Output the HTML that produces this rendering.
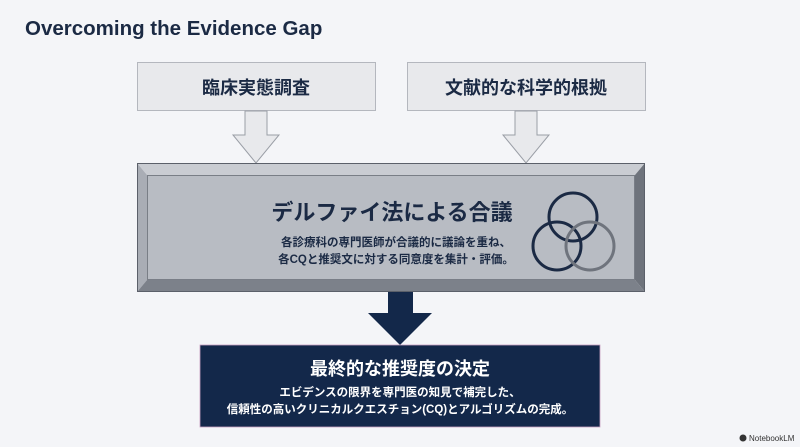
<!DOCTYPE html>
<html><head><meta charset="utf-8"><style>
html,body{margin:0;padding:0;background:#f4f5f8;}
svg{display:block;}
text{font-family:"Liberation Sans","Noto Sans CJK JP",sans-serif;}
</style></head><body>
<svg width="800" height="447" viewBox="0 0 800 447" xmlns="http://www.w3.org/2000/svg">
<rect width="800" height="447" fill="#f4f5f8"/>
<text x="25" y="35" font-size="20.5" font-weight="bold" fill="#1b2a44">Overcoming the Evidence Gap</text>

<rect x="137.5" y="62.5" width="238" height="48" fill="#e8e9ec" stroke="#b4b7be"/>
<text x="256" y="94" font-size="18" font-weight="bold" fill="#1b2a44" text-anchor="middle">臨床実態調査</text>
<rect x="407.5" y="62.5" width="238" height="48" fill="#e8e9ec" stroke="#b4b7be"/>
<text x="526" y="94" font-size="18" font-weight="bold" fill="#1b2a44" text-anchor="middle">文献的な科学的根拠</text>

<polygon points="245,111 267,111 267,135 279,135 256,163 233,135 245,135" fill="#e8e9ec" stroke="#9a9ea6"/>
<polygon points="515,111 537,111 537,135 549,135 526,163 503,135 515,135" fill="#e8e9ec" stroke="#9a9ea6"/>

<polygon points="137,163 645,163 635,175 147,175" fill="#c9ccd2"/>
<polygon points="137,163 147,175 147,280 137,292" fill="#a9adb5"/>
<polygon points="645,163 645,292 635,280 635,175" fill="#6e737c"/>
<polygon points="137,292 147,280 635,280 645,292" fill="#7c818a"/>
<rect x="147" y="175" width="488" height="105" fill="#b8bcc3"/>
<rect x="137.5" y="163.5" width="507" height="128" fill="none" stroke="#5b606a"/>
<rect x="147.5" y="175.5" width="487" height="104" fill="none" stroke="#6a6f78" stroke-width="0.8"/>
<text x="392" y="220" font-size="22" font-weight="bold" fill="#1b2a44" text-anchor="middle">デルファイ法による合議</text>
<text x="396" y="246" font-size="11.5" font-weight="bold" fill="#1b2a44" text-anchor="middle">各診療科の専門医師が合議的に議論を重ね、</text>
<text x="396" y="263" font-size="11.5" font-weight="bold" fill="#1b2a44" text-anchor="middle">各CQと推奨文に対する同意度を集計・評価。</text>
<circle cx="573" cy="217" r="24" fill="none" stroke="#1b2a44" stroke-width="3"/>
<circle cx="557" cy="246" r="24" fill="none" stroke="#1b2a44" stroke-width="3"/>
<circle cx="590" cy="246" r="24" fill="none" stroke="#6f747d" stroke-width="3"/>

<polygon points="388,292 413,292 413,313 432,313 400,345 368,313 388,313" fill="#13284a"/>

<rect x="200" y="345" width="400" height="82" fill="#13284a" stroke="#c9a0c0" stroke-width="0.8"/>
<text x="400" y="375" font-size="18" font-weight="bold" fill="#ffffff" text-anchor="middle">最終的な推奨度の決定</text>
<text x="400" y="396" font-size="11.5" font-weight="bold" fill="#ffffff" text-anchor="middle">エビデンスの限界を専門医の知見で補完した、</text>
<text x="400" y="413" font-size="11.5" font-weight="bold" fill="#ffffff" text-anchor="middle">信頼性の高いクリニカルクエスチョン(CQ)とアルゴリズムの完成。</text>

<circle cx="743" cy="438" r="3.5" fill="#333"/>
<text x="749" y="441" font-size="8" fill="#333">NotebookLM</text>
</svg>
</body></html>
